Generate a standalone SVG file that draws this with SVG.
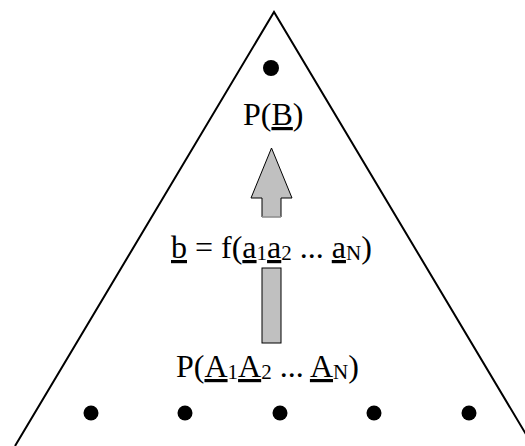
<svg xmlns="http://www.w3.org/2000/svg" width="525" height="446" viewBox="0 0 525 446">
<style>
text{font-family:"Liberation Serif","Times New Roman",serif;font-size:32px;fill:#000}
.u{text-decoration:underline}
.s{font-size:21px}
.dot{fill:#000}
.arrow{fill:#c0c0c0;stroke:#000;stroke-width:1}
</style>
<rect width="525" height="446" fill="#fff"/>
<g id="triangle">
<polyline points="15,446 274,12 533,446" fill="none" stroke="#000" stroke-width="2"/>
</g>
<g id="connectors">
<polygon class="arrow" points="271.5,148 251,198 262,198 262,217 281,217 281,198 292,198"/>
<rect class="arrow" x="262" y="268" width="19" height="75"/>
<line x1="262" y1="217" x2="281" y2="217" stroke="#c0c0c0" stroke-width="1.2"/>
</g>
<g id="node-top">
<circle class="dot" cx="271" cy="68" r="8"/>
<text x="243" y="125">P(<tspan class="u">B</tspan>)</text>
</g>
<g id="label-f">
<text x="171" y="258"><tspan class="u">b</tspan> = f(<tspan class="u">a</tspan><tspan class="s" dy="2">1</tspan><tspan class="u" dy="-2">a</tspan><tspan class="s" dy="2">2</tspan><tspan dy="-2"> ... </tspan><tspan class="u">a</tspan><tspan class="s" dy="2">N</tspan><tspan dy="-2">)</tspan></text>
</g>
<g id="node-bottom">
<text x="176" y="377">P(<tspan class="u">A</tspan><tspan class="s" dy="2">1</tspan><tspan class="u" dy="-2">A</tspan><tspan class="s" dy="2">2</tspan><tspan dy="-2"> ... </tspan><tspan class="u">A</tspan><tspan class="s" dy="2">N</tspan><tspan dy="-2">)</tspan></text>
<circle class="dot" cx="91" cy="413" r="7.5"/>
<circle class="dot" cx="185" cy="413" r="7.5"/>
<circle class="dot" cx="280" cy="413" r="7.5"/>
<circle class="dot" cx="374" cy="413" r="7.5"/>
<circle class="dot" cx="469" cy="413" r="7.5"/>
</g>
</svg>
